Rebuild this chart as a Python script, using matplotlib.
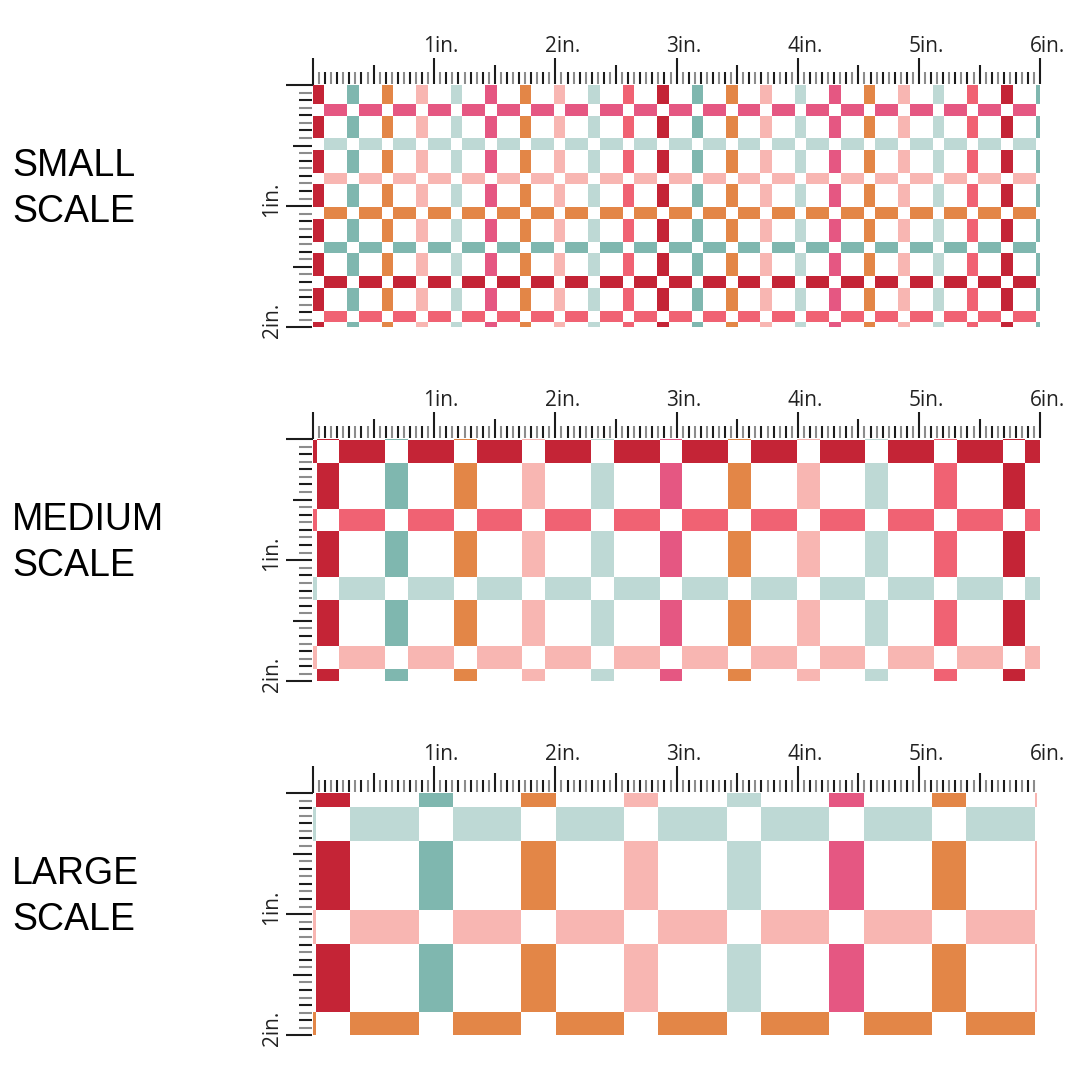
#! /usr/bin/env python
# -*- coding:utf-8 -*-
"""
gingham / windowpane check shown at three print scales, with inch rulers
"""
import matplotlib.pyplot as plt
from matplotlib.patches import Rectangle

COLORS = {
    'red': '#C42436',
    'teal': '#7FB7AF',
    'orange': '#E38647',
    'light_pink': '#F8B6B2',
    'light_teal': '#BED9D5',
    'pink': '#E55782',
    'coral': '#F06273',
}
# colour of the stripes left to right (the rows use the same order bottom to top)
STRIPE_ORDER = ['red', 'teal', 'orange', 'light_pink', 'light_teal',
                'pink', 'orange', 'light_pink', 'light_teal', 'coral']
ROW_ORDER = STRIPE_ORDER[::-1]  # top to bottom

SCALE_NAMES = ['SMALL', 'MEDIUM', 'LARGE']
REPEAT_IN = [0.284, 0.566, 0.847]     # one stripe + gap, inches
COL_SHIFT_IN = [0.0, 0.029, 0.025]    # first red column from the left edge
ROW_SHIFT_IN = [0.157, 0.008, 0.116]  # first full row band from the top edge
FIRST_ROW = [4, 9, 1]                 # index in ROW_ORDER of that band
PANEL_W_IN = [6.0, 6.0, 5.97]
PANEL_H_IN = 2.0

TOP_LABELS = ['1in.', '2in.', '3in.', '4in.', '5in.', '6in.']
SIDE_LABELS = ['1in.', '2in.']
TOP_DIV = 20    # ticks per inch, top ruler
SIDE_DIV = 16   # ticks per inch, side ruler

FIG_PX = 1080
PPI = 121.2           # screen pixels per ruler inch
LEFT_PX = 313
PANEL_TOP_PX = [85, 439, 793]

TICK_DARK = '#1c1c1c'
TICK_GREY = '#8c8c8c'
RULER_FONT = ['Open Sans', 'DejaVu Sans']


def draw_check(ax, repeat, col_shift, row_shift, first_row, width):
    w = repeat / 3.0
    n_col = int(width / repeat) + 3
    n_row = int(PANEL_H_IN / repeat) + 3
    for k in range(-1, n_col):
        x = col_shift + k * repeat
        col_c = COLORS[STRIPE_ORDER[k % len(STRIPE_ORDER)]]
        for j in range(-1, n_row):
            y = row_shift + j * repeat
            row_c = COLORS[ROW_ORDER[(first_row + j) % len(ROW_ORDER)]]
            # row band piece between two columns
            ax.add_patch(Rectangle((x + w, y), repeat - w, w, facecolor=row_c, lw=0))
            # column piece between two row bands
            ax.add_patch(Rectangle((x, y + w), w, repeat - w, facecolor=col_c, lw=0))


def draw_rulers(ax, width):
    gap = 0.008
    # top ruler
    xs, y0, y1, cs = [], [], [], []
    for i in range(int(round(width * TOP_DIV)) + 1):
        if i % TOP_DIV == 0:
            ln, c = 0.215, TICK_DARK
        elif i % (TOP_DIV // 2) == 0:
            ln, c = 0.157, TICK_DARK
        else:
            ln, c = 0.1, TICK_GREY if i % 2 else TICK_DARK
        xs.append(i / TOP_DIV)
        y0.append(0 if i == 0 else -gap)
        y1.append(-gap - ln)
        cs.append(c)
    ax.vlines(xs, y0, y1, colors=cs, lw=1.5, clip_on=False)
    for i, lab in enumerate(TOP_LABELS):
        ax.text(i + 1 + 0.058, -0.27, lab, ha='center', va='baseline',
                fontsize=15, color='#222222', family=RULER_FONT)

    # side ruler
    ys, x0, x1, cs = [], [], [], []
    for i in range(int(PANEL_H_IN * SIDE_DIV) + 1):
        if i % SIDE_DIV == 0:
            ln, c = 0.215, TICK_DARK
        elif i % (SIDE_DIV // 2) == 0:
            ln, c = 0.157, TICK_DARK
        else:
            ln, c = 0.107, TICK_GREY if i % 2 else TICK_DARK
        ys.append(i / SIDE_DIV)
        x0.append(0 if i == 0 else -gap)
        x1.append(-gap - ln)
        cs.append(c)
    ax.hlines(ys, x0, x1, colors=cs, lw=1.5, clip_on=False)
    for i, lab in enumerate(SIDE_LABELS):
        ax.text(-0.338, i + 1 - 0.058, lab, ha='center', va='center', rotation=90,
                fontsize=15, color='#222222', family=RULER_FONT)


def main():
    fig = plt.figure(figsize=(FIG_PX / 100, FIG_PX / 100), dpi=100)
    fig.patch.set_facecolor('white')
    for n, name in enumerate(SCALE_NAMES):
        top = PANEL_TOP_PX[n]
        width = PANEL_W_IN[n]
        rect = [LEFT_PX / FIG_PX, 1 - (top + PANEL_H_IN * PPI) / FIG_PX,
                width * PPI / FIG_PX, PANEL_H_IN * PPI / FIG_PX]
        ax = fig.add_axes(rect)
        ax.set_xlim(0, width)
        ax.set_ylim(PANEL_H_IN, 0)
        ax.set_axis_off()
        draw_check(ax, REPEAT_IN[n], COL_SHIFT_IN[n], ROW_SHIFT_IN[n], FIRST_ROW[n], width)
        draw_rulers(ax, width)

        for line, off in ((name, 91), ('SCALE', 137)):
            fig.text(12 / FIG_PX, 1 - (top + off) / FIG_PX, line, ha='left', va='baseline',
                     fontsize=27, color='black', family=['Liberation Sans', 'DejaVu Sans'])

    fig.savefig('out.png', dpi=100, facecolor='white')


if __name__ == "__main__":
    main()
